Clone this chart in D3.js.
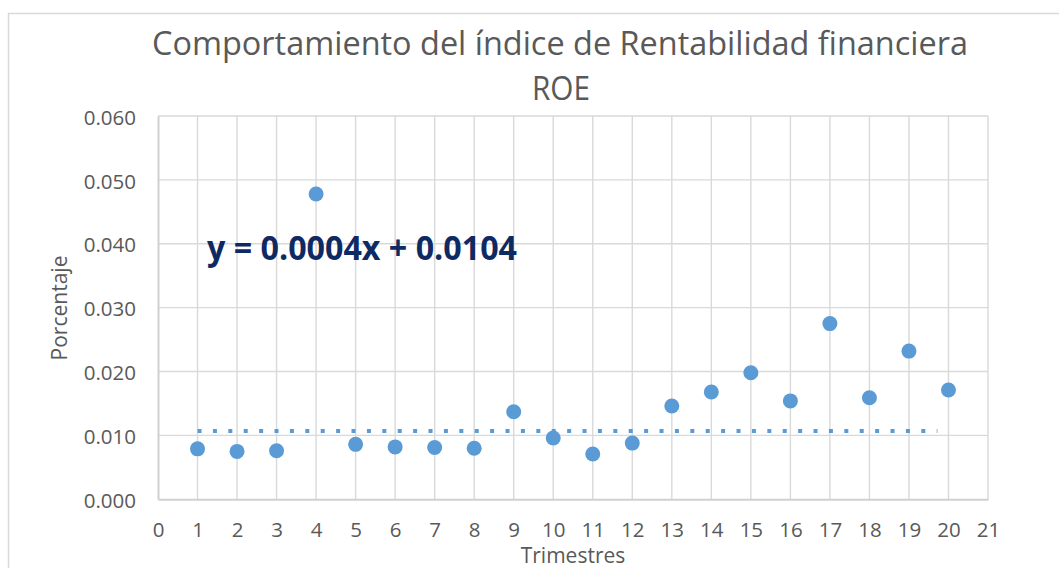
<!DOCTYPE html>
<html>
<head>
<meta charset="utf-8">
<script src="https://cdn.jsdelivr.net/npm/d3@7"></script>
<style>
  html, body { margin: 0; padding: 0; background: #ffffff; }
  svg { display: block; }
</style>
</head>
<body>
<svg id="chart" width="1059" height="568"></svg>
<script>
// ---- data ----
const titleLines = ["Comportamiento del índice de Rentabilidad financiera", "ROE"];
const xLabel = "Trimestres";
const yLabel = "Porcentaje";
const trimestres = [1, 2, 3, 4, 5, 6, 7, 8, 9, 10, 11, 12, 13, 14, 15, 16, 17, 18, 19, 20];
const roe = [0.0079, 0.0075, 0.0076, 0.0478, 0.0086, 0.0082, 0.0081, 0.0080, 0.0137, 0.0096,
             0.0071, 0.0088, 0.0146, 0.0168, 0.0198, 0.0154, 0.0275, 0.0159, 0.0232, 0.0171];
const trendX = [1, 19.72];
const trendY = [0.0107, 0.0107];
const equationText = "y = 0.0004x + 0.0104";
const xTicks = [0, 1, 2, 3, 4, 5, 6, 7, 8, 9, 10, 11, 12, 13, 14, 15, 16, 17, 18, 19, 20, 21];
const yTicks = [0.000, 0.010, 0.020, 0.030, 0.040, 0.050, 0.060];

// ---- layout ----
const svg = d3.select("#chart");
const FONT = "'Open Sans', 'Noto Sans', sans-serif";
const plot = { left: 158, right: 988, top: 116, bottom: 499.3 };
const x = d3.scaleLinear().domain([0, 21]).range([plot.left, plot.right]);
const y = d3.scaleLinear().domain([0, 0.06]).range([plot.bottom, plot.top]);

// outer chart border
svg.append("rect")
  .attr("x", 8.5).attr("y", 13.5)
  .attr("width", 1200).attr("height", 700)
  .attr("fill", "#ffffff")
  .attr("stroke", "#d9d9d9").attr("stroke-width", 1.5);

// gridlines
const grid = svg.append("g");
grid.selectAll("line.v").data(xTicks.slice(1)).enter().append("line")
  .attr("x1", d => x(d)).attr("x2", d => x(d))
  .attr("y1", plot.top).attr("y2", plot.bottom)
  .attr("stroke", "#d9d9d9").attr("stroke-width", 1.4);
grid.selectAll("line.h").data(yTicks.slice(1)).enter().append("line")
  .attr("x1", plot.left).attr("x2", plot.right)
  .attr("y1", d => y(d)).attr("y2", d => y(d))
  .attr("stroke", "#d9d9d9").attr("stroke-width", 1.4);

// axes
const xAxis = svg.append("g")
  .attr("transform", `translate(0,${plot.bottom})`)
  .call(d3.axisBottom(x).tickValues(xTicks).tickFormat(d3.format("d")).tickSize(0).tickPadding(23));
const yAxis = svg.append("g")
  .attr("transform", `translate(${plot.left},0)`)
  .call(d3.axisLeft(y).tickValues(yTicks).tickFormat(d3.format(".3f")).tickSize(0).tickPadding(22));
[xAxis, yAxis].forEach(g => {
  g.select(".domain").attr("stroke", "#d0d0d0").attr("stroke-width", 2);
  g.selectAll("text").attr("font-family", FONT).attr("font-size", 20.5).attr("fill", "#595959");
});
yAxis.selectAll("text").attr("dy", "0.4em");

// trendline (dotted)
const line = d3.line().x(d => x(d[0])).y(d => y(d[1]));
svg.append("path")
  .datum(trendX.map((v, i) => [v, trendY[i]]))
  .attr("d", line)
  .attr("fill", "none")
  .attr("stroke", "#5b9bd5")
  .attr("stroke-width", 4)
  .attr("stroke-dasharray", "4 11.4");

// points
svg.append("g").selectAll("circle").data(trimestres).enter().append("circle")
  .attr("cx", d => x(d))
  .attr("cy", (d, i) => y(roe[i]))
  .attr("r", 7.5)
  .attr("fill", "#5b9bd5");

// title
svg.append("text")
  .attr("x", 560).attr("y", 55)
  .attr("text-anchor", "middle")
  .attr("font-family", FONT).attr("font-weight", 400)
  .attr("font-size", 32).attr("fill", "#595959")
  .attr("textLength", 816).attr("lengthAdjust", "spacingAndGlyphs")
  .text(titleLines[0]);
svg.append("text")
  .attr("x", 561).attr("y", 99.5)
  .attr("text-anchor", "middle")
  .attr("font-family", FONT).attr("font-weight", 400)
  .attr("font-size", 32).attr("fill", "#595959")
  .attr("textLength", 58).attr("lengthAdjust", "spacingAndGlyphs")
  .text(titleLines[1]);

// equation
svg.append("text")
  .attr("x", 207).attr("y", 260)
  .attr("font-family", FONT).attr("font-weight", 700)
  .attr("font-size", 34).attr("fill", "#0f2a63")
  .attr("textLength", 310).attr("lengthAdjust", "spacingAndGlyphs")
  .text(equationText);

// axis titles
svg.append("text")
  .attr("x", x(10.5)).attr("y", 563)
  .attr("text-anchor", "middle")
  .attr("font-family", FONT).attr("font-size", 21).attr("fill", "#595959")
  .text(xLabel);
svg.append("text")
  .attr("transform", "translate(67,308) rotate(-90)")
  .attr("text-anchor", "middle")
  .attr("font-family", FONT).attr("font-size", 21).attr("fill", "#595959")
  .text(yLabel);
</script>
</body>
</html>
